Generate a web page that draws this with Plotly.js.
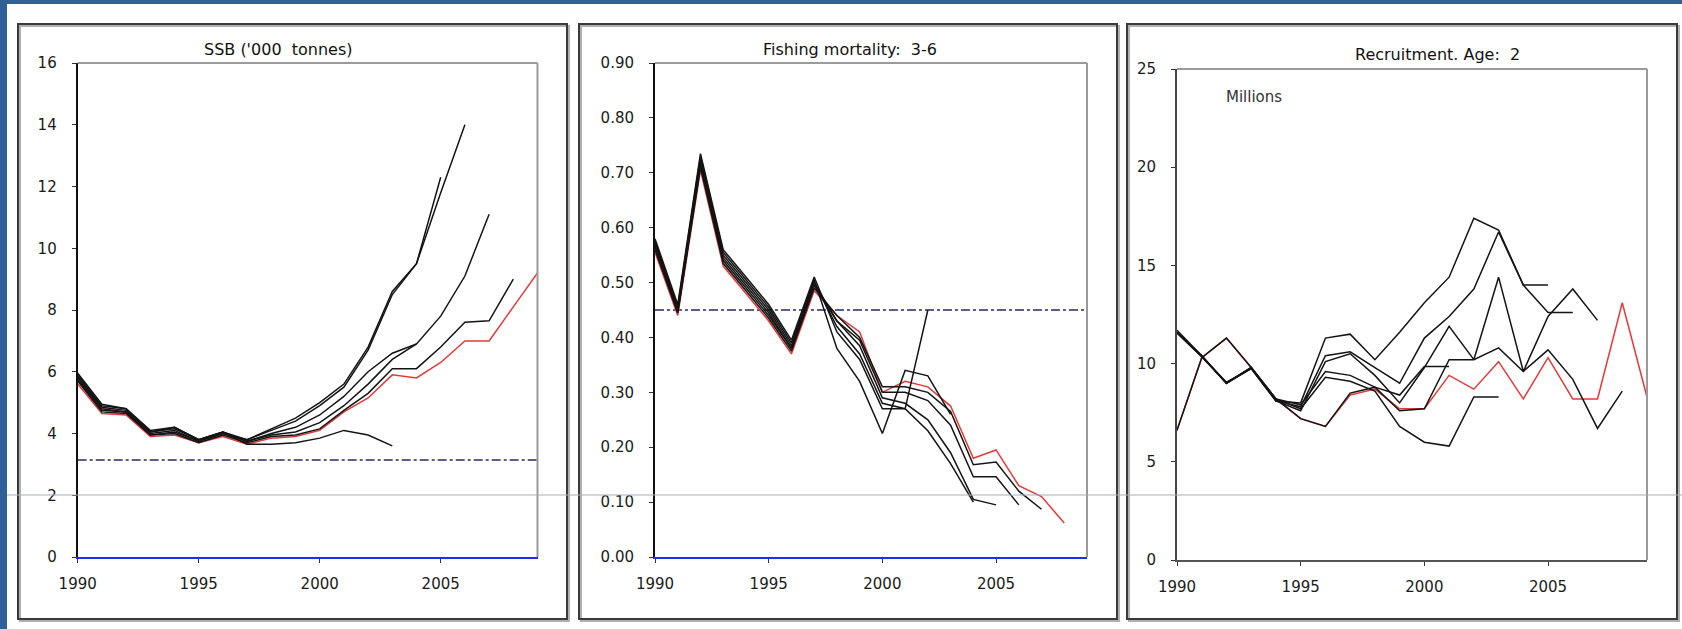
<!DOCTYPE html>
<html><head><meta charset="utf-8">
<script src="https://cdn.plot.ly/plotly-3.0.1.min.js"></script>
<style>html,body{margin:0;padding:0;background:#fff;overflow:hidden}#chart{width:1682px;height:629px}</style>
</head><body><div id="chart"></div>
<script>
// ---------------- DATA ----------------
const years = [1990,1991,1992,1993,1994,1995,1996,1997,1998,1999,2000,2001,2002,2003,2004,2005,2006,2007,2008,2009];
const yearTicks = [1990,1995,2000,2005];

// SSB ('000 tonnes) retrospective runs, values from 1990 to terminal year
const ssb_t2003 = [5.95,4.95,4.8,4.1,4.2,3.8,4.05,3.65,3.65,3.7,3.85,4.1,3.95,3.6];
const ssb_t2004 = [5.9,4.9,4.8,4.05,4.2,3.8,4.05,3.75,4.0,4.2,4.6,5.2,6.0,6.6,6.9];
const ssb_t2005 = [5.85,4.85,4.75,4.05,4.15,3.8,4.05,3.8,4.15,4.5,5.0,5.6,6.8,8.6,9.5,12.3];
const ssb_t2006 = [5.8,4.8,4.7,4.0,4.1,3.75,4.0,3.8,4.1,4.4,4.9,5.5,6.7,8.5,9.5,11.8,14.0];
const ssb_t2007 = [5.75,4.75,4.7,3.95,4.05,3.75,4.0,3.75,3.95,4.05,4.35,4.9,5.6,6.4,6.9,7.8,9.1,11.1];
const ssb_t2008 = [5.7,4.7,4.65,3.95,4.0,3.7,3.95,3.7,3.9,3.95,4.15,4.75,5.3,6.1,6.1,6.8,7.6,7.65,9.0];
const ssb_t2009 = [5.6,4.65,4.6,3.9,3.95,3.7,3.9,3.65,3.85,3.9,4.1,4.7,5.15,5.9,5.8,6.3,7.0,7.0,8.1,9.2];
const ssbRef = 3.14;

// Fishing mortality (ages 3-6)
const f_t2002 = [0.58,0.46,0.735,0.56,0.51,0.46,0.395,0.51,0.41,0.36,0.27,0.27,0.45];
const f_t2003 = [0.575,0.455,0.73,0.555,0.505,0.455,0.39,0.505,0.38,0.32,0.225,0.34,0.33,0.26];
const f_t2004 = [0.57,0.45,0.725,0.55,0.50,0.45,0.385,0.50,0.42,0.37,0.28,0.27,0.23,0.17,0.10];
const f_t2005 = [0.57,0.45,0.72,0.545,0.495,0.445,0.38,0.50,0.43,0.385,0.29,0.28,0.25,0.19,0.105,0.095];
const f_t2006 = [0.565,0.445,0.715,0.54,0.49,0.44,0.38,0.495,0.43,0.395,0.30,0.30,0.285,0.24,0.146,0.146,0.095];
const f_t2007 = [0.56,0.445,0.71,0.535,0.485,0.435,0.375,0.49,0.44,0.40,0.31,0.31,0.30,0.265,0.168,0.173,0.12,0.087];
const f_t2008 = [0.555,0.44,0.705,0.53,0.48,0.43,0.37,0.485,0.44,0.41,0.30,0.32,0.31,0.275,0.18,0.195,0.13,0.11,0.062];
const fRef = 0.45;

// Recruitment age 2 (millions)
const rec_t2001 = [11.6,10.4,9.0,9.8,8.2,7.9,9.6,9.4,8.8,8.4,9.85,9.85];
const rec_t2003 = [11.7,10.4,9.0,9.8,8.2,7.7,9.3,9.1,8.6,6.8,6.0,5.8,8.3,8.3];
const rec_t2005 = [11.6,10.4,9.0,9.8,8.1,8.0,11.3,11.5,10.2,11.6,13.1,14.4,17.4,16.8,14.0,14.0];
const rec_t2006 = [11.6,10.35,9.0,9.75,8.1,7.8,10.4,10.6,9.8,9.0,11.3,12.4,13.8,16.7,14.0,12.6,12.6];
const rec_t2007 = [11.55,10.35,9.05,9.75,8.1,7.6,10.1,10.5,9.4,8.0,9.8,11.9,10.2,14.4,9.6,12.4,13.8,12.2];
const rec_t2008 = [6.6,10.3,11.3,9.8,8.2,7.2,6.8,8.5,8.8,7.6,7.7,10.2,10.2,10.8,9.6,10.7,9.2,6.7,8.6];
const rec_t2009 = [6.6,10.3,11.3,9.8,8.2,7.2,6.8,8.4,8.7,7.7,7.7,9.4,8.7,10.1,8.2,10.3,8.2,8.2,13.1,8.3];

// ---------------- STYLE / BUILD ----------------
const FONT = 'DejaVu Sans, Verdana, sans-serif';
const BLACK = '#141414', RED = '#e23a3a';
function run(vals, xa, ya, color, w){
  return {x: years.slice(0, vals.length), y: vals, xaxis: xa, yaxis: ya, type:'scatter', mode:'lines',
          line:{color: color, width: w}, hoverinfo:'skip'};
}
function ref(level, xa, ya){
  return {x:[years[0], years[years.length-1]], y:[level, level], xaxis: xa, yaxis: ya, type:'scatter', mode:'lines',
          line:{color:'#2a2a66', width:1.6, dash:'dashdot'}, hoverinfo:'skip'};
}
const LW = 1.5;
const traces = [
  ref(ssbRef,'x','y'),
  run(ssb_t2009,'x','y',RED,LW),
  run(ssb_t2003,'x','y',BLACK,LW), run(ssb_t2004,'x','y',BLACK,LW), run(ssb_t2005,'x','y',BLACK,LW),
  run(ssb_t2006,'x','y',BLACK,LW), run(ssb_t2007,'x','y',BLACK,LW), run(ssb_t2008,'x','y',BLACK,LW),
  ref(fRef,'x2','y2'),
  run(f_t2008,'x2','y2',RED,LW),
  run(f_t2002,'x2','y2',BLACK,LW), run(f_t2003,'x2','y2',BLACK,LW), run(f_t2004,'x2','y2',BLACK,LW),
  run(f_t2005,'x2','y2',BLACK,LW), run(f_t2006,'x2','y2',BLACK,LW), run(f_t2007,'x2','y2',BLACK,LW),
  run(rec_t2009,'x3','y3',RED,LW),
  run(rec_t2001,'x3','y3',BLACK,LW), run(rec_t2003,'x3','y3',BLACK,LW), run(rec_t2005,'x3','y3',BLACK,LW),
  run(rec_t2006,'x3','y3',BLACK,LW), run(rec_t2007,'x3','y3',BLACK,LW), run(rec_t2008,'x3','y3',BLACK,LW)
];

const W = 1682, H = 629;
const px = v => v / W, py = v => (H - v) / H;
const xTickFont = {family: FONT, size: 15, color: '#1a1a1a'};
const yTickFont = {family: FONT, size: 15, color: '#1a1a1a'};
function xax(l, r, anchor, lineColor){
  return {domain:[px(l), px(r)], anchor: anchor, range:[years[0], years[years.length-1]], tickvals: yearTicks,
    ticks:'outside', ticklen:4, tickwidth:1, tickcolor:'#333', showline:true, linecolor: lineColor, linewidth:2,
    showgrid:false, zeroline:false, tickfont: xTickFont, ticklabelstandoff: 8, fixedrange:true};
}
function yax(b, t, anchor, max, dtick, fmt, lineColor){
  return {domain:[py(b), py(t)], anchor: anchor, range:[0, max], dtick: dtick, tick0:0, tickformat: fmt,
    ticks:'outside', ticklen:4, tickwidth:1, tickcolor:'#333', showline:true, linecolor: lineColor, linewidth:2,
    showgrid:false, zeroline:false, tickfont: yTickFont, ticklabelstandoff: 12, fixedrange:true};
}
function panelBox(l, r){
  return [
    {type:'rect', xref:'paper', yref:'paper', x0:px(l+2), x1:px(r+2), y0:py(621), y1:py(26), line:{color:'#b0b0b0', width:2}},
    {type:'rect', xref:'paper', yref:'paper', x0:px(l), x1:px(r), y0:py(619), y1:py(24), line:{color:'#3a3a3a', width:2}}
  ];
}
function plotBorder(xa, ya){
  return [
    {type:'line', xref: xa+' domain', yref: ya+' domain', x0:0, x1:1, y0:1, y1:1, line:{color:'#9a9a9a', width:2}},
    {type:'line', xref: xa+' domain', yref: ya+' domain', x0:1, x1:1, y0:0, y1:1, line:{color:'#9a9a9a', width:2}}
  ];
}
const shapes = [
  {type:'rect', xref:'paper', yref:'paper', x0:0, x1:px(7), y0:0, y1:1, fillcolor:'#2f6196', line:{width:0}, layer:'below'},
  {type:'rect', xref:'paper', yref:'paper', x0:0, x1:1, y0:py(4), y1:1, fillcolor:'#2f6196', line:{width:0}, layer:'below'},
  ...panelBox(18, 567), ...panelBox(579, 1117), ...panelBox(1127, 1677),
  ...plotBorder('x','y'), ...plotBorder('x2','y2'), ...plotBorder('x3','y3'),
  {type:'line', xref:'paper', yref:'paper', x0:px(7), x1:1, y0:py(495), y1:py(495), line:{color:'#a3afbf', width:1}}
];
const titleFont = {family: FONT, size: 16, color:'#111'};
const annotations = [
  {text:"SSB ('000  tonnes)", xref:'paper', yref:'paper', x:px(278), y:py(50), showarrow:false, font: titleFont, xanchor:'center', yanchor:'middle'},
  {text:'Fishing mortality:  3-6', xref:'paper', yref:'paper', x:px(850), y:py(49), showarrow:false, font: titleFont, xanchor:'center', yanchor:'middle'},
  {text:'Recruitment. Age:  2', xref:'paper', yref:'paper', x:px(1437), y:py(55), showarrow:false, font: titleFont, xanchor:'center', yanchor:'middle'},
  {text:'Millions', xref:'paper', yref:'paper', x:px(1224), y:py(97), showarrow:false, font:{family: FONT, size: 15, color:'#333'}, xanchor:'left', yanchor:'middle'}
];
const layout = {
  width: W, height: H, margin:{l:0, r:0, t:0, b:0}, paper_bgcolor:'#ffffff', plot_bgcolor:'#ffffff', showlegend:false,
  xaxis: xax(77.7, 537.5, 'y', '#1f2bff'),
  yaxis: yax(557, 63, 'x', 16, 2, 'd', '#111'),
  xaxis2: xax(655, 1087, 'y2', '#1f2bff'),
  yaxis2: yax(557, 63, 'x2', 0.9, 0.1, '.2f', '#111'),
  xaxis3: xax(1177, 1647, 'y3', '#555'),
  yaxis3: yax(560, 69, 'x3', 25, 5, 'd', '#444'),
  shapes: shapes, annotations: annotations
};
Plotly.newPlot('chart', traces, layout, {staticPlot:true, displayModeBar:false});
</script></body></html>
